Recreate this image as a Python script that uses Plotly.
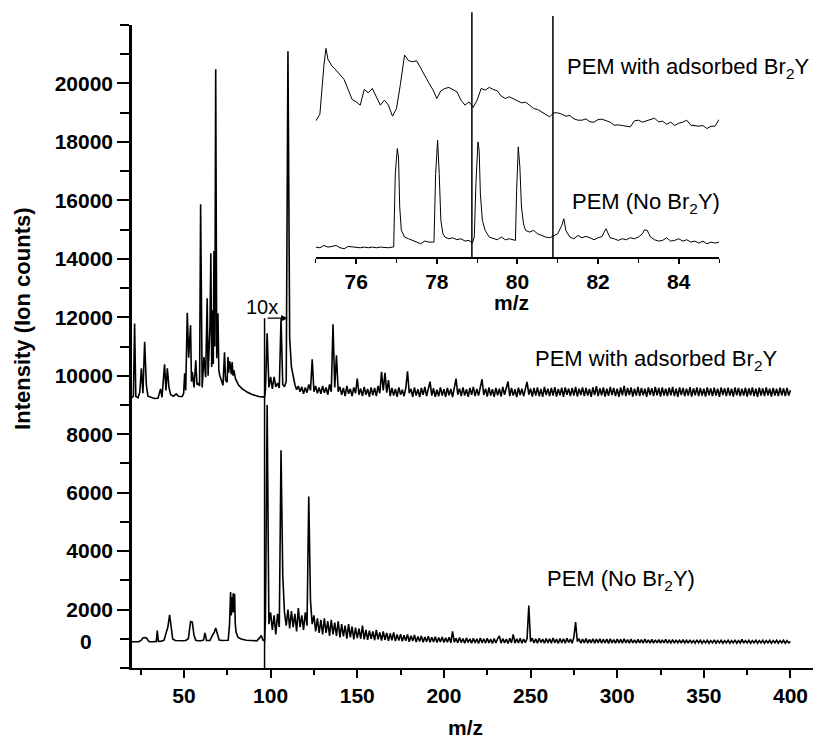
import plotly.graph_objects as go

# ---------------- main spectra (m/z, ion counts) ----------------
# left part (m/z 20 - 96.5)
upper_left_mz = [20, 20.8, 21.5, 22.2, 23.5, 24.5, 25.4, 26.3, 27.3, 28.3, 29.2, 31, 33, 35, 36.5, 37.3,
                 38.8, 39.6, 40.4, 41.3, 42.3, 44, 45.5, 47, 49, 49.8, 50.4, 51.0, 51.9, 52.7, 53.8, 54.3,
                 54.8, 55.8, 56.8, 57.5, 58.2, 59.0, 59.6, 60.5, 61.5, 62.5, 63.4, 63.9, 64.4, 65.0, 65.5,
                 66.0, 66.4, 66.9, 67.3, 67.8, 68.3, 68.9, 69.6, 70.1, 70.6, 71.5, 72.5, 73.4, 74.0, 74.9,
                 75.4, 75.8, 76.3, 76.8, 77.3, 77.8, 78.3, 78.8, 79.7, 80.5, 81.6, 83.5, 86.4, 89.3, 93.1, 96.5]
upper_left_counts = [9250, 9300, 11790, 9300, 9250, 9440, 10250, 9400, 11160, 9670, 9300, 9250, 9220, 9230, 9550, 9260,
                     10390, 9500, 10250, 9610, 9350, 9300, 9380, 9290, 9290, 9400, 10080, 9500, 12150, 10620, 11730, 9800,
                     10130, 9600, 10530, 9700, 9730, 9650, 15870, 9600, 10640, 9950, 12650, 10000, 10750, 11700, 14190,
                     10300, 12240, 10400, 14270, 11000, 20490, 10600, 12140, 10200, 10020, 9840, 9670, 10800, 9850, 9780,
                     10640, 10100, 10500, 10360, 10050, 10470, 10000, 10190, 9900, 9800, 9670, 9560, 9440, 9360, 9290, 9270]

lower_left_mz = [20, 22, 24, 25.5, 26.3, 27.5, 28.5, 29.2, 30, 32, 34, 34.6, 35.2, 37, 38.5, 39.8, 40.7, 41.7,
                 42.7, 43.5, 45, 47, 49, 51, 52.5, 53.8, 54.8, 55.8, 56.8, 58, 60, 61.3, 62.1, 63, 65, 66.3,
                 67.5, 68.3, 69.3, 70.3, 72, 74, 75.5, 76.3, 76.9, 77.3, 77.7, 78.1, 78.4, 78.8, 79.2, 79.6,
                 80.1, 81.1, 83, 86, 89, 92, 93.6, 94.6, 95.5, 96.5]
lower_left_counts = [900, 890, 900, 960, 1030, 1040, 1020, 950, 900, 900, 910, 1280, 910, 920, 950, 1220, 1400, 1820,
                     1220, 990, 940, 930, 930, 940, 1000, 1590, 1570, 1110, 950, 930, 930, 960, 1200, 940, 940, 1110,
                     1224, 1370, 1110, 960, 940, 940, 950, 1500, 2600, 1800, 2420, 1900, 2560, 1900, 2540, 1500,
                     1220, 1050, 990, 950, 930, 930, 1030, 1110, 960, 930]

# right part (10x magnified region), sampled every 1 m/z from 97 to 400
grid_mz = list(range(97, 401))
upper_right_counts = [
    9500, 11450, 9600,
    9960, 9550, 9960, 9620, 9750, 9580, 11960, 9700, 9620, 9800,
    21100, 11270, 10300, 9960, 9700, 9520, 9650, 9450, 9620, 9380,
    9600, 9420, 9700, 9500, 10560, 9450, 9650, 9400, 9600, 9380,
    9650, 9420, 9600, 9350, 9700, 9450, 11760, 9600, 10700, 9450,
    9620, 9350, 9580, 9300, 9650, 9380, 9550, 9300, 9600, 9400,
    9900, 9350, 9560, 9300, 9620, 9350, 9550, 9280, 9600, 9330,
    9580, 9300, 9650, 9400, 10130, 9500, 10100, 9420, 9850, 9300,
    9580, 9320, 9550, 9280, 9600, 9350, 9520, 9300, 9580, 10150,
    9400, 9550, 9280, 9600, 9320, 9540, 9270, 9580, 9350, 9620,
    9300, 9550, 9800, 9320, 9570, 9280, 9520, 9300, 9600, 9320,
    9540, 9280, 9580, 9330, 9550, 9270, 9620, 9900, 9350, 9560,
    9300, 9600, 9320, 9540, 9280, 9580, 9350, 9620, 9300, 9550,
    9320, 9580, 9880, 9340, 9560, 9290, 9600, 9320, 9540, 9280,
    9580, 9330, 9560, 9290, 9620, 9350, 9550, 9800, 9300, 9580,
    9320, 9540, 9270, 9590, 9340, 9560, 9300, 9600, 9790, 9350,
    9560, 9290, 9580, 9320, 9600, 9300, 9550, 9280, 9620, 9340,
    9560, 9300, 9580, 9320, 9610, 9290, 9550, 9330, 9590, 9280,
    9600, 9350, 9560, 9300, 9580, 9320, 9620, 9290, 9560, 9340,
    9600, 9300, 9580, 9320, 9550, 9280, 9600, 9340, 9640, 9300,
    9570, 9330, 9600, 9290, 9560, 9310, 9620, 9340, 9580, 9300,
    9560, 9280, 9600, 9330, 9650, 9300, 9580, 9340, 9600, 9290,
    9560, 9320, 9620, 9300, 9580, 9330, 9560, 9280, 9600, 9340,
    9570, 9300, 9620, 9330, 9580, 9290, 9600, 9320, 9560, 9300,
    9590, 9330, 9620, 9300, 9560, 9280, 9600, 9340, 9580, 9300,
    9560, 9320, 9610, 9290, 9570, 9330, 9600, 9300, 9580, 9320,
    9560, 9290, 9600, 9330, 9570, 9300, 9590, 9320, 9560, 9280,
    9600, 9340, 9570, 9300, 9590, 9320, 9560, 9290, 9600, 9330,
    9580, 9300, 9560, 9320, 9590, 9290, 9570, 9330, 9600, 9300,
    9560, 9280, 9590, 9320, 9570, 9300, 9600, 9330, 9560, 9290,
    9580, 9320, 9560, 9300, 9590, 9330, 9570, 9300, 9580, 9320,
    9500]
lower_right_counts = [
    1650, 9000, 1500,
    1900, 1300, 1800, 1150, 1850, 1400, 7450, 3170, 1900, 1450,
    2000, 1350, 1950, 1400, 1850, 1250, 2050, 1400, 1800, 1300,
    1900, 1450, 5870, 2310, 1500, 1800, 1250, 1700, 1200, 1650,
    1150, 1700, 1200, 1600, 1100, 1650, 1150, 1550, 1100, 1600,
    1050, 1500, 1080, 1450, 1000, 1500, 1050, 1420, 980, 1380,
    1020, 1350, 1000, 1450, 980, 1300, 960, 1280, 1000, 1250,
    950, 1300, 980, 1220, 940, 1250, 960, 1200, 930, 1180,
    950, 1220, 920, 1150, 940, 1160, 910, 1120, 930, 1150,
    900, 1100, 920, 1130, 890, 1080, 910, 1100, 880, 1060,
    900, 1090, 880, 1050, 890, 1070, 870, 1040, 890, 1060,
    870, 1030, 880, 1050, 860, 1250, 880, 1020, 860, 1040,
    870, 1010, 850, 1030, 870, 1000, 850, 1020, 860, 1000,
    840, 1030, 860, 1000, 850, 1020, 860, 990, 840, 1010,
    860, 1000, 1100, 850, 1010, 860, 990, 840, 1020, 860,
    1150, 850, 1000, 860, 1020, 850, 990, 870, 1010, 2140,
    900, 1020, 860, 1000, 850, 1020, 870, 990, 850, 1010,
    860, 1000, 850, 1030, 860, 990, 840, 1010, 860, 1000,
    850, 1020, 870, 990, 850, 1050, 1570, 900, 1000, 850,
    990, 860, 1010, 850, 980, 860, 1000, 850, 990, 860,
    1000, 850, 980, 860, 990, 840, 1000, 860, 970, 850,
    990, 860, 980, 850, 1000, 860, 970, 850, 990, 860,
    960, 850, 980, 860, 970, 850, 990, 860, 960, 850,
    980, 850, 960, 860, 970, 850, 960, 860, 980, 850,
    950, 860, 970, 850, 960, 860, 950, 850, 970, 860,
    950, 850, 960, 860, 940, 850, 960, 860, 950, 850,
    940, 860, 950, 850, 940, 860, 960, 850, 940, 860,
    950, 850, 940, 860, 950, 850, 940, 860, 960, 850,
    940, 860, 980, 850, 940, 860, 950, 850, 940, 860,
    950, 850, 940, 860, 950, 850, 940, 860, 950, 850,
    940, 860, 950, 850, 940, 860, 950, 850, 940, 860,
    900]

# ---------------- inset spectra (m/z 75-85, relative intensity) ----------------
inset_up_mz = [75.0, 75.1, 75.2, 75.25, 75.3, 75.4, 75.5, 75.6, 75.7, 75.8, 75.9,
               76.0, 76.1, 76.2, 76.3, 76.4, 76.5, 76.6, 76.7, 76.8, 76.9,
               77.0, 77.1, 77.2, 77.3, 77.4, 77.5, 77.6, 77.7, 77.8, 77.9,
               78.0, 78.1, 78.2, 78.3, 78.4, 78.5, 78.6, 78.7, 78.8, 78.9,
               79.0, 79.1, 79.2, 79.3, 79.4, 79.5, 79.6, 79.7, 79.8, 79.9,
               80.0, 80.1, 80.2, 80.3, 80.4, 80.5, 80.6, 80.7, 80.8, 80.9,
               81.0, 81.1, 81.2, 81.3, 81.4, 81.5, 81.6, 81.7, 81.8, 81.9,
               82.0, 82.1, 82.2, 82.3, 82.4, 82.5, 82.6, 82.7, 82.8, 82.9,
               83.0, 83.1, 83.2, 83.3, 83.4, 83.5, 83.6, 83.7, 83.8, 83.9,
               84.0, 84.1, 84.2, 84.3, 84.4, 84.5, 84.6, 84.7, 84.8, 84.9, 85.0]
inset_up_int = [408, 428, 575, 625, 592, 572, 560, 545, 532, 502, 472,
                465, 455, 502, 492, 505, 482, 455, 470, 455, 422,
                445, 520, 605, 588, 585, 588, 565, 542, 522, 502,
                475, 498, 505, 508, 502, 495, 470, 455, 465, 448,
                470, 505, 500, 508, 502, 498, 482, 475, 480, 473,
                468, 462, 464, 455, 445, 442, 434, 426, 420, 432,
                432, 428, 422, 424, 414, 410, 410, 414, 405, 404,
                412, 413, 408, 404, 395, 396, 394, 392, 390, 408,
                410, 404, 408, 412, 416, 405, 407, 398, 404, 394,
                401, 404, 410, 395, 393, 392, 394, 385, 392, 392, 412]

inset_low_mz = [75.0, 75.1, 75.2, 75.3, 75.4, 75.5, 75.6, 75.7, 75.8, 75.9,
                76.0, 76.1, 76.2, 76.3, 76.4, 76.5, 76.6, 76.7, 76.8, 76.9, 76.93,
                76.97, 77.02, 77.05, 77.08, 77.12, 77.2, 77.3, 77.4, 77.5, 77.6, 77.7, 77.8, 77.9, 77.93,
                77.97, 78.02, 78.06, 78.1, 78.15, 78.2, 78.3, 78.4, 78.5, 78.6, 78.7, 78.8, 78.88, 78.93,
                78.97, 79.02, 79.05, 79.08, 79.13, 79.2, 79.3, 79.4, 79.5, 79.6, 79.7, 79.8, 79.9, 79.95,
                79.98, 80.02, 80.06, 80.1, 80.15, 80.2, 80.3, 80.4, 80.5, 80.6, 80.7, 80.8, 80.9,
                81.0, 81.1, 81.15, 81.2, 81.3, 81.4, 81.5, 81.6, 81.7, 81.8, 81.9,
                82.0, 82.1, 82.15, 82.2, 82.25, 82.3, 82.4, 82.5, 82.6, 82.7, 82.8, 82.9,
                83.0, 83.1, 83.15, 83.22, 83.3, 83.4, 83.5, 83.6, 83.7, 83.8, 83.9,
                84.0, 84.1, 84.2, 84.3, 84.4, 84.5, 84.6, 84.7, 84.8, 84.9, 85.0]
inset_low_int = [30, 28, 35, 30, 32, 35, 28, 25, 32, 30,
                 30, 28, 30, 28, 30, 28, 30, 28, 28, 30, 30,
                 250, 325, 300, 150, 80, 60, 55, 50, 45, 40, 48, 45, 45, 45,
                 250, 350, 250, 110, 70, 60, 55, 58, 52, 55, 48, 50, 42, 60,
                 220, 345, 320, 190, 110, 80, 60, 55, 52, 60, 52, 55, 52, 50,
                 200, 330, 270, 150, 100, 80, 75, 80, 70, 65, 60, 58, 65,
                 70, 95, 115, 80, 60, 55, 65, 58, 62, 58, 52,
                 58, 62, 75, 85, 70, 58, 55, 50, 55, 52, 58, 55,
                 60, 70, 82, 80, 60, 52, 48, 50, 58, 48, 50,
                 55, 48, 52, 45, 48, 42, 48, 40, 45, 42, 45]

inset_markers_mz = [78.87, 80.88]
magnify_start_mz = 96.5
bracket_end_mz = 109.8
bracket_level = 11970

x_ticks = [50, 100, 150, 200, 250, 300, 350, 400]
y_ticks = [2000, 4000, 6000, 8000, 10000, 12000, 14000, 16000, 18000, 20000]
inset_ticks = [76, 78, 80, 82, 84]

FONT = "Liberation Sans, Arial, sans-serif"
line = dict(color="black", width=1.6)

fig = go.Figure()
fig.add_trace(go.Scatter(x=upper_left_mz + grid_mz, y=upper_left_counts + upper_right_counts,
                         mode="lines", line=line, showlegend=False, hoverinfo="skip"))
fig.add_trace(go.Scatter(x=lower_left_mz + grid_mz, y=lower_left_counts + lower_right_counts,
                         mode="lines", line=line, showlegend=False, hoverinfo="skip"))
fig.add_trace(go.Scatter(x=inset_up_mz, y=inset_up_int, xaxis="x2", yaxis="y2",
                         mode="lines", line=dict(color="black", width=1), showlegend=False, hoverinfo="skip"))
fig.add_trace(go.Scatter(x=inset_low_mz, y=inset_low_int, xaxis="x2", yaxis="y2",
                         mode="lines", line=dict(color="black", width=1), showlegend=False, hoverinfo="skip"))

tickfont = dict(family=FONT, size=21, color="black", weight="bold")

fig.update_layout(
    width=814, height=738,
    margin=dict(l=132, r=1, t=25, b=70),
    paper_bgcolor="white", plot_bgcolor="white",
    font=dict(family=FONT, color="black"),
    xaxis=dict(range=[20, 413], showgrid=False, zeroline=False, showline=True, linecolor="black",
               linewidth=2, ticks="outside", ticklen=8, tickwidth=2, tickcolor="black",
               tickvals=x_ticks, tickfont=tickfont,
               minor=dict(dtick=25, tick0=0, ticks="outside", ticklen=5, tickwidth=1.5, tickcolor="black")),
    yaxis=dict(range=[0, 22000], showgrid=False, zeroline=False, showline=True, linecolor="black",
               linewidth=2.5, ticks="outside", ticklen=12, tickwidth=1.5, tickcolor="black",
               tickvals=y_ticks, tickformat="d", tickfont=tickfont,
               minor=dict(dtick=1000, tick0=0, ticks="outside", ticklen=9, tickwidth=1.5, tickcolor="black")),
    xaxis2=dict(domain=[0.270, 0.862], anchor="y2", range=[75, 85], showgrid=False, zeroline=False,
                showline=True, linecolor="black", linewidth=1.5, ticks="outside", ticklen=5, tickwidth=1.5,
                tickcolor="black", tickvals=inset_ticks, tickfont=tickfont,
                minor=dict(dtick=1, tick0=75, ticks="outside", ticklen=4, tickwidth=1, tickcolor="black")),
    yaxis2=dict(domain=[0.639, 1.0], anchor="x2", range=[0, 695], visible=False),
)

for xm, ytop in zip(inset_markers_mz, [1.020, 1.014]):
    fig.add_shape(type="line", xref="x2", yref="paper", x0=xm, x1=xm, y0=0.639, y1=ytop,
                  line=dict(color="black", width=1.5))

# 10x bracket
fig.add_shape(type="line", xref="x", yref="y", x0=magnify_start_mz, x1=magnify_start_mz,
              y0=0, y1=bracket_level, line=dict(color="black", width=1.5))
fig.add_annotation(x=bracket_end_mz, y=bracket_level, ax=magnify_start_mz, ay=bracket_level,
                   xref="x", yref="y", axref="x", ayref="y", text=" ", showarrow=True,
                   arrowhead=2, arrowsize=1, arrowwidth=1.3, arrowcolor="black")

ann_font = dict(family=FONT, size=22, color="black")
fig.add_annotation(x=95, y=12350, xref="x", yref="y", text="10x", showarrow=False,
                   font=dict(family=FONT, size=20, color="black"), xanchor="center", yanchor="middle")
fig.add_annotation(x=251.2, y=10540, xref="x", yref="y", text="PEM with adsorbed Br<sub>2</sub>Y",
                   showarrow=False, font=ann_font, xanchor="left", yanchor="middle")
fig.add_annotation(x=258.1, y=3010, xref="x", yref="y", text="PEM (No Br<sub>2</sub>Y)",
                   showarrow=False, font=ann_font, xanchor="left", yanchor="middle")
fig.add_annotation(x=81.18, y=566, xref="x2", yref="y2", text="PEM with adsorbed Br<sub>2</sub>Y",
                   showarrow=False, font=ann_font, xanchor="left", yanchor="middle")
fig.add_annotation(x=81.30, y=161, xref="x2", yref="y2", text="PEM (No Br<sub>2</sub>Y)",
                   showarrow=False, font=ann_font, xanchor="left", yanchor="middle")

# "0" label sits at the baseline of the lower spectrum
fig.add_annotation(x=0, y=900, xref="paper", yref="y", text="<b>0</b>", showarrow=False,
                   font=dict(family=FONT, size=21, color="black"), xanchor="right", yanchor="middle",
                   xshift=-38)

# axis titles
fig.add_annotation(x=-0.160, y=0.543, xref="paper", yref="paper", text="<b>Intensity (Ion counts)</b>",
                   textangle=-90, showarrow=False, font=dict(family=FONT, size=22, color="black"),
                   xanchor="center", yanchor="middle")
fig.add_annotation(x=0.489, y=-0.092, xref="paper", yref="paper", text="<b>m/z</b>",
                   showarrow=False, font=dict(family=FONT, size=21, color="black"),
                   xanchor="center", yanchor="middle")
fig.add_annotation(x=0.558, y=0.569, xref="paper", yref="paper", text="<b>m/z</b>",
                   showarrow=False, font=dict(family=FONT, size=21, color="black"),
                   xanchor="center", yanchor="middle")

assert len(upper_right_counts) == len(grid_mz) == len(lower_right_counts)
assert len(upper_left_mz) == len(upper_left_counts) and len(lower_left_mz) == len(lower_left_counts)
assert len(inset_up_mz) == len(inset_up_int) and len(inset_low_mz) == len(inset_low_int)

fig.write_html("out.html", config={"displayModeBar": False},
               post_script="document.body.style.margin='0';document.body.style.overflow='hidden';")
